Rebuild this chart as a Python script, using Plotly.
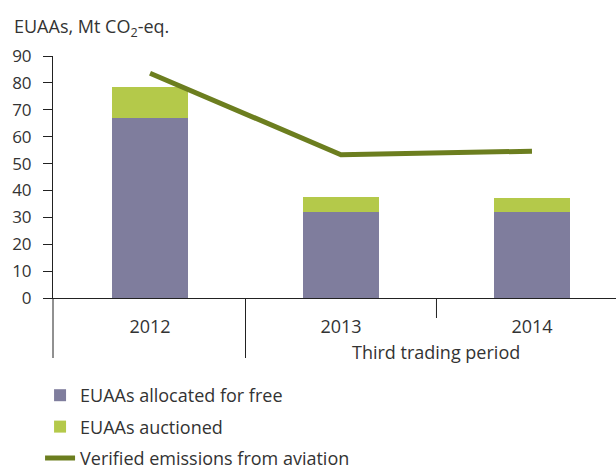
import plotly.graph_objects as go

years = ["2012", "2013", "2014"]
free_alloc = [67, 32, 32]
auctioned = [11.5, 5.5, 5.3]
verified = [83.6, 53.3, 54.6]
y_ticks = [0, 10, 20, 30, 40, 50, 60, 70, 80, 90]

FONT = "Open Sans"
TXT = "#333333"
PURPLE = "#7f7d9d"
GREEN = "#b4c94a"
OLIVE = "#6c7e1f"

xpos = [0, 1, 2]
PH = 242.0  # plot height in px
PW = 563.0

fig = go.Figure()
fig.add_trace(go.Bar(x=xpos, y=free_alloc, name="EUAAs allocated for free",
                     marker=dict(color=PURPLE, line=dict(width=0)), width=0.4,
                     legendgroup="a"))
fig.add_trace(go.Bar(x=xpos, y=auctioned, name="EUAAs auctioned",
                     marker=dict(color=GREEN, line=dict(width=0)), width=0.4,
                     legendgroup="b"))
fig.add_trace(go.Scatter(x=xpos, y=verified, name="Verified emissions from aviation",
                         mode="lines", line=dict(color=OLIVE, width=5),
                         legendgroup="c"))

fig.update_layout(
    width=616, height=468,
    margin=dict(l=53, r=0, t=56, b=170, autoexpand=False),
    barmode="stack",
    plot_bgcolor="white", paper_bgcolor="white",
    font=dict(family=FONT, size=18, color=TXT),
    showlegend=True,
    legend=dict(x=-0.023, y=-79/PH, xanchor="left", yanchor="top",
                font=dict(size=18, color=TXT), tracegroupgap=5,
                traceorder="grouped", itemwidth=30, bgcolor="rgba(0,0,0,0)"),
    xaxis=dict(range=[-0.508, 2.44], tickmode="array", tickvals=xpos, ticktext=years,
               showline=True, linecolor="#222222", linewidth=1,
               ticks="outside", ticklen=12, tickcolor="rgba(0,0,0,0)",
               showgrid=False, zeroline=False, fixedrange=True),
    yaxis=dict(range=[0, 90], tickmode="array", tickvals=y_ticks,
               showline=True, linecolor="#222222", linewidth=1,
               ticks="outside", ticklen=9, tickcolor="#222222",
               ticklabelstandoff=8, tickfont=dict(size=17),
               showgrid=False, zeroline=False, fixedrange=True),
    annotations=[
        dict(text="EUAAs, Mt CO<sub>2</sub>-eq.", x=(12 - 53) / PW, xanchor="left",
             y=1 + (56 - 28) / PH, yanchor="middle", xref="paper", yref="paper",
             showarrow=False, font=dict(size=18, color=TXT)),
        dict(text="Third trading period", x=1.5, xref="x", y=-(352 - 298) / PH, yref="paper",
             xanchor="center", yanchor="middle", showarrow=False,
             font=dict(size=18, color=TXT)),
    ],
)

line_style = dict(color="#222222", width=1)
fig.add_shape(type="line", xref="paper", yref="paper", x0=0, x1=0, y0=0, y1=-60 / PH, line=line_style)
fig.add_shape(type="line", xref="x", yref="paper", x0=0.5, x1=0.5, y0=0, y1=-60 / PH, line=line_style)
fig.add_shape(type="line", xref="x", yref="paper", x0=1.5, x1=1.5, y0=0, y1=-20 / PH, line=line_style)

fig.write_html("out.html", config={"displayModeBar": False},
               post_script="document.body.style.margin='0';document.body.style.padding='0';")
